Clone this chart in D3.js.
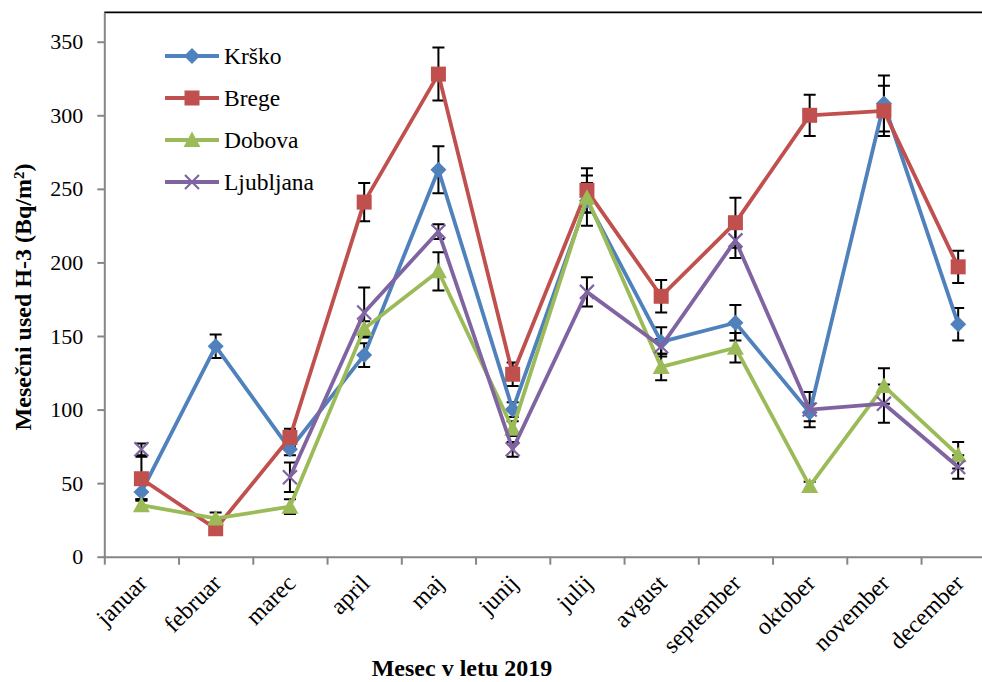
<!DOCTYPE html>
<html>
<head>
<meta charset="utf-8">
<script src="https://cdn.jsdelivr.net/npm/d3@7"></script>
<style>
  html, body { margin: 0; padding: 0; background: #fff; }
  svg { display: block; }
  text { font-family: "Liberation Serif", "Times New Roman", serif; fill: #000; }
</style>
</head>
<body>
<svg id="chart" width="982" height="682"></svg>
<script>
const months = ["januar","februar","marec","april","maj","junij","julij","avgust","september","oktober","november","december"];
const seriesNames = ["Krško","Brege","Dobova","Ljubljana"];
const krsko      = [44, 143, 73, 137, 263, 100, 242, 146, 159, 98, 308, 158];
const krskoErr   = [5, 8, 4, 8, 16, 5, 17, 10, 12, 6, 19, 11];
const brege      = [53, 19, 81, 241, 328, 124, 249, 177, 227, 300, 303, 197];
const bregeErr   = [15, 3, 6, 13, 18, 8, 15, 11, 17, 14, 17, 11];
const dobova     = [35, 26, 34, 155, 194, 87, 244, 129, 142, 48, 116, 69];
const dobovaErr  = [4, 4, 5, 5, 13, 5, 10, 9, 10, 3, 12, 9];
const ljubljana  = [73, null, 54, 166, 221, 73, 180, 143, 215, 100, 104, 61];
const ljubljanaErr = [4, null, 10, 17, 5, 5, 10, 5, 12, 12, 13, 8];
const yTicks = [0, 50, 100, 150, 200, 250, 300, 350];
const yMax = 370;
const xTitle = "Mesec v letu 2019";

const colors = ["#4F81BD", "#C0504D", "#9BBB59", "#8064A2"];
const markers = ["diamond", "square", "triangle", "cross"];
const seriesData = [
  {name: seriesNames[0], values: krsko, err: krskoErr},
  {name: seriesNames[1], values: brege, err: bregeErr},
  {name: seriesNames[2], values: dobova, err: dobovaErr},
  {name: seriesNames[3], values: ljubljana, err: ljubljanaErr}
];

const svg = d3.select("#chart");
const pLeft = 104.3, pRight = 995.3, pTop = 12.3, pBottom = 556.7;

const xEdge = d3.scaleLinear().domain([0, months.length]).range([pLeft, pRight]);
const x = d3.scaleBand().domain(months).range([pLeft, pRight]).padding(0);
const cx = m => x(m) + x.bandwidth() / 2;
const y = d3.scaleLinear().domain([0, yMax]).range([pBottom, pTop]);

// plot border (top/right black)
svg.append("path")
  .attr("d", `M${pLeft},${pTop}H${pRight}V${pBottom}`)
  .attr("fill", "none").attr("stroke", "#000").attr("stroke-width", 1.8);

// Y axis
const yAxis = svg.append("g").attr("transform", `translate(${pLeft},0)`)
  .call(d3.axisLeft(y).tickValues(yTicks).tickSize(7).tickPadding(14).tickSizeOuter(0));
yAxis.attr("font-family", null);
yAxis.select(".domain").attr("stroke", "#868686").attr("stroke-width", 2);
yAxis.selectAll(".tick line").attr("stroke", "#868686").attr("stroke-width", 2);
yAxis.selectAll(".tick text")
  .style("font-family", "'Liberation Serif', serif").style("font-size", "22px").attr("fill", "#000");

// X axis (ticks between categories)
const xAxis = svg.append("g").attr("transform", `translate(0,${pBottom})`)
  .call(d3.axisBottom(xEdge).tickValues(d3.range(months.length + 1)).tickSize(8).tickFormat("").tickSizeOuter(0));
xAxis.select(".domain").attr("stroke", "#868686").attr("stroke-width", 2);
xAxis.selectAll(".tick line").attr("stroke", "#868686").attr("stroke-width", 2);

// X category labels
svg.append("g").selectAll("text").data(months).join("text")
  .attr("transform", d => `translate(${cx(d) + 7},${pBottom + 28}) rotate(-45)`)
  .attr("text-anchor", "end")
  .style("font-size", "24px")
  .text(d => d);

// Axis titles
svg.append("text")
  .attr("x", 462).attr("y", 676)
  .attr("text-anchor", "middle")
  .style("font-size", "24px").style("font-weight", "bold")
  .text(xTitle);

const yt = svg.append("text")
  .attr("transform", "translate(31,297) rotate(-90)")
  .attr("text-anchor", "middle")
  .style("font-size", "24px").style("font-weight", "bold");
yt.append("tspan").text("Mesečni used  H-3 (Bq/m");
yt.append("tspan").attr("dy", "-0.45em").style("font-size", "15px").text("2");
yt.append("tspan").attr("dy", "0.3em").text(")");

// marker drawing
function drawMarker(g, type, color, px, py) {
  if (type === "diamond") {
    g.append("path").attr("d", `M${px},${py-8}L${px+8},${py}L${px},${py+8}L${px-8},${py}Z`).attr("fill", color);
  } else if (type === "square") {
    g.append("rect").attr("x", px-7.5).attr("y", py-7.5).attr("width", 15).attr("height", 15).attr("fill", color);
  } else if (type === "triangle") {
    g.append("path").attr("d", `M${px},${py-8.5}L${px+8.5},${py+7}L${px-8.5},${py+7}Z`).attr("fill", color);
  } else {
    g.append("path").attr("d", `M${px-7},${py-7}L${px+7},${py+7}M${px-7},${py+7}L${px+7},${py-7}`)
      .attr("stroke", color).attr("stroke-width", 2.2).attr("fill", "none");
  }
}

// error bars
const eb = svg.append("g").attr("stroke", "#000").attr("stroke-width", 2).attr("fill", "none");
seriesData.forEach(s => {
  s.values.forEach((v, i) => {
    if (v == null || s.err[i] == null) return;
    const px = cx(months[i]);
    const y1 = y(v + s.err[i]), y2 = y(v - s.err[i]);
    eb.append("path").attr("d", `M${px},${y1}V${y2}M${px-6},${y1}H${px+6}M${px-6},${y2}H${px+6}`);
  });
});

// lines + markers
const line = d3.line().defined(d => d.v != null).x(d => cx(d.m)).y(d => y(d.v));
seriesData.forEach((s, k) => {
  const pts = s.values.map((v, i) => ({m: months[i], v}));
  const g = svg.append("g");
  g.append("path").datum(pts).attr("d", line)
    .attr("fill", "none").attr("stroke", colors[k]).attr("stroke-width", 3.8).attr("stroke-linejoin", "round");
  pts.forEach(p => { if (p.v != null) drawMarker(g, markers[k], colors[k], cx(p.m), y(p.v)); });
});

// legend
const lg = svg.append("g");
seriesData.forEach((s, k) => {
  const ly = 56 + k * 42;
  lg.append("line").attr("x1", 165).attr("x2", 219).attr("y1", ly).attr("y2", ly)
    .attr("stroke", colors[k]).attr("stroke-width", 3.8);
  drawMarker(lg, markers[k], colors[k], 192, ly);
  lg.append("text").attr("x", 224).attr("y", ly).attr("dy", "0.35em")
    .style("font-size", "23.5px").text(s.name);
});
</script>
</body>
</html>
